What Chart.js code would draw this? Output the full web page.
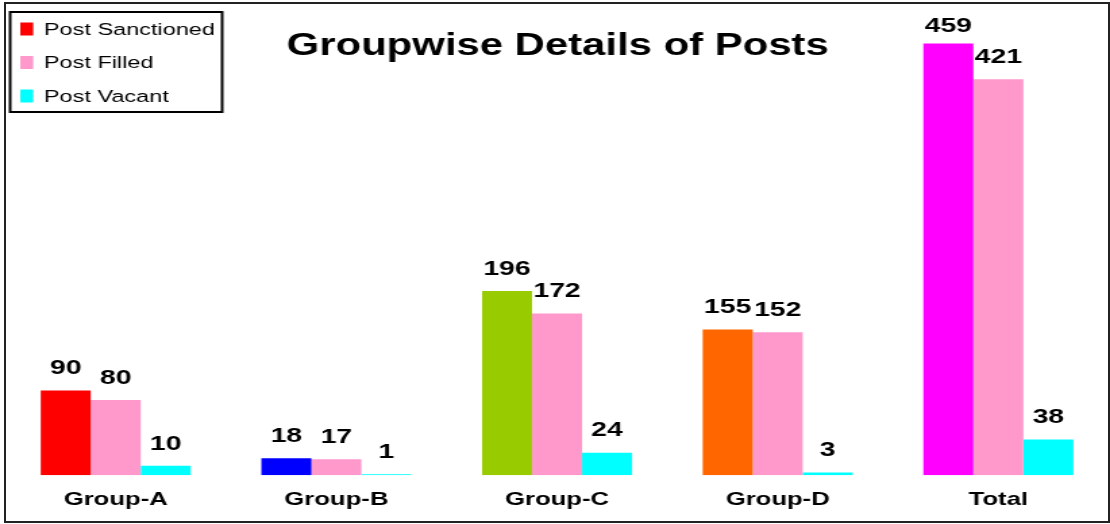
<!DOCTYPE html>
<html>
<head>
<meta charset="utf-8">
<script src="https://cdn.jsdelivr.net/npm/chart.js@4.4.1/dist/chart.umd.min.js"></script>
<style>
    body { margin: 0; background: #fff; }
    #wrap { position: absolute; left: 0; top: 0; width: 822px; height: 524px; transform: scaleX(1.3504); transform-origin: 0 0; }
    #frame { position: absolute; left: 4px; top: 2px; width: 1102px; height: 517px; border: 2px solid #222; pointer-events: none; }
</style>
</head>
<body>
<div id="wrap"><canvas id="myChart"></canvas></div>
<div id="frame"></div>
<script>
// data
var groups = ['Group-A', 'Group-B', 'Group-C', 'Group-D', 'Total'];
var sanctioned = [90, 18, 196, 155, 459];
var filled = [80, 17, 172, 152, 421];
var vacant = [10, 1, 24, 3, 38];
var sanctionedColors = ['#FF0000', '#0000FF', '#99CC00', '#FF6600', '#FF00FF'];
var chartTitle = 'Groupwise Details of Posts';

var fontFamily = "'Liberation Sans', Arial, sans-serif";

// value labels, title and the boxed legend
var decorations = {
    id: 'decorations',
    afterDatasetsDraw: function(chart) {
        var ctx = chart.ctx;
        ctx.save();
        ctx.fillStyle = '#000';
        ctx.font = 'bold 21px ' + fontFamily;
        ctx.textAlign = 'center';
        ctx.textBaseline = 'middle';
        chart.data.datasets.forEach(function(ds, i) {
            chart.getDatasetMeta(i).data.forEach(function(bar, j) {
                ctx.fillText(ds.data[j], bar.x, Math.max(bar.y - 22, 26));
            });
        });
        ctx.restore();
    },
    afterDraw: function(chart) {
        var ctx = chart.ctx;
        ctx.save();
        // title
        ctx.fillStyle = '#000';
        ctx.font = 'bold 31px ' + fontFamily;
        ctx.textAlign = 'center';
        ctx.textBaseline = 'middle';
        ctx.fillText(chartTitle, 413, 46);

        // legend
        ctx.strokeStyle = '#000';
        ctx.lineWidth = 2;
        ctx.strokeRect(7.5, 12, 157, 100);
        ctx.font = '17.4px ' + fontFamily;
        ctx.textAlign = 'left';
        chart.data.datasets.forEach(function(ds, i) {
            var y = 29 + i * 33.5;
            var col = Array.isArray(ds.backgroundColor) ? ds.backgroundColor[0] : ds.backgroundColor;
            ctx.fillStyle = col;
            ctx.fillRect(15, y - 6.5, 9.6, 13);
            ctx.fillStyle = '#000';
            ctx.fillText(ds.label, 32.5, y + 1);
        });
        ctx.restore();
    }
};

var ctx = document.getElementById('myChart').getContext('2d');
var myChart = new Chart(ctx, {
    type: 'bar',
    data: {
        labels: groups,
        datasets: [{
            label: 'Post Sanctioned',
            data: sanctioned,
            backgroundColor: sanctionedColors
        }, {
            label: 'Post Filled',
            data: filled,
            backgroundColor: '#FF99CC'
        }, {
            label: 'Post Vacant',
            data: vacant,
            backgroundColor: '#00FFFF'
        }]
    },
    options: {
        responsive: true,
        maintainAspectRatio: false,
        animation: false,
        layout: { padding: { top: 5, left: 4, right: 1, bottom: 0 } },
        datasets: {
            bar: { categoryPercentage: 0.68, barPercentage: 1.0 }
        },
        scales: {
            x: {
                grid: { display: false, drawTicks: false },
                border: { display: false },
                ticks: {
                    color: '#000',
                    padding: 13,
                    font: { family: fontFamily, size: 19, weight: 'bold' }
                }
            },
            y: { display: false, min: 0, max: 500 }
        },
        plugins: {
            legend: { display: false },
            tooltip: { enabled: false }
        }
    },
    plugins: [decorations]
});
</script>
</body>
</html>
